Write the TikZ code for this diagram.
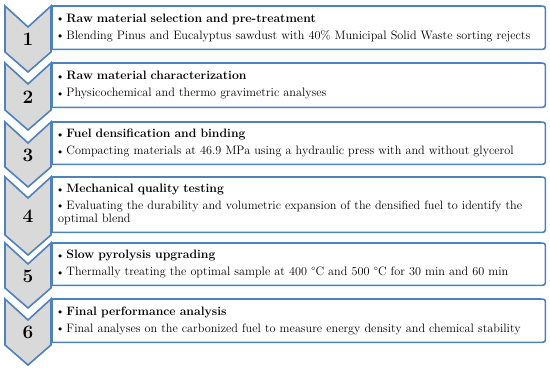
\documentclass[tikz,border=0pt]{standalone}
\usepackage{tikz}
\usepackage{graphicx}
\usetikzlibrary{positioning,calc}
\definecolor{stepblue}{RGB}{79,129,189}
\definecolor{stepgrey}{RGB}{217,217,217}
\newcommand{\stepdot}{\raisebox{0.6pt}{\scalebox{0.7}{$\bullet$}}\ }

\begin{document}
\begin{tikzpicture}[
    x=1pt, y=-1pt,
    chev/.style={draw=stepblue,fill=stepgrey,line width=1.6pt,line join=miter},
    frame/.style={draw=stepblue,line width=1.6pt},
    stage/.style={anchor=north west,inner xsep=6pt,inner ysep=0pt,
                  minimum width=493pt,minimum height=#1,text width=481pt,
                  align=left,font=\fontsize{12.2}{13.4}\selectfont},
    num/.style={font=\fontsize{19}{19}\selectfont\bfseries}]

    \useasboundingbox (0,0) rectangle (550,372);

    % Chevrons
    \draw[chev] (5,6) -- (28,27) -- (51,6) -- (51,52) -- (28,72) -- (5,52) -- cycle;
    \draw[chev] (5,63) -- (28,84) -- (51,63) -- (51,110) -- (28,130) -- (5,110) -- cycle;
    \draw[chev] (5,122) -- (28,143) -- (51,122) -- (51,167) -- (28,187) -- (5,167) -- cycle;
    \draw[chev] (5,177) -- (28,198) -- (51,177) -- (51,235) -- (28,255) -- (5,235) -- cycle;
    \draw[chev] (5,243) -- (28,264) -- (51,243) -- (51,288) -- (28,308) -- (5,288) -- cycle;
    \draw[chev] (5,299) -- (28,320) -- (51,299) -- (51,345) -- (28,365) -- (5,345) -- cycle;

    \node[num] (nsel)  at (28,39.5)  {1};
    \node[num] (nchr)  at (28,97)    {2};
    \node[num] (ndens) at (28,155)   {3};
    \node[num] (nmech) at (28,216.5) {4};
    \node[num] (npyro) at (28,276)   {5};
    \node[num] (nfin)  at (28,332.5) {6};

    % Step 1: selection
    \node[stage=43pt] (sel) at (52,6)
      {\stepdot\textbf{Raw material selection and pre-treatment}\\[3.5pt]
       \stepdot Blending Pinus and Eucalyptus sawdust with 40\% Municipal Solid Waste sorting rejects};
    % Step 2: characterization
    \node[stage=44pt] (chr) at (52,63)
      {\stepdot\textbf{Raw material characterization}\\[3.5pt]
       \stepdot Physicochemical and thermo gravimetric analyses};
    % Step 3: densification
    \node[stage=42pt] (dens) at (52,122)
      {\stepdot\textbf{Fuel densification and binding}\\[3.5pt]
       \stepdot Compacting materials at 46.9 MPa using a hydraulic press with and without glycerol};
    % Step 4: mechanical testing
    \node[stage=55pt] (mech) at (52,177)
      {\stepdot\textbf{Mechanical quality testing}\\[3.5pt]
       \stepdot Evaluating the durability and volumetric expansion of the densified fuel to identify the\\
       optimal blend};
    % Step 5: pyrolysis
    \node[stage=42pt] (pyro) at (52,243)
      {\stepdot\textbf{Slow pyrolysis upgrading}\\[3.5pt]
       \stepdot Thermally treating the optimal sample at 400 \textdegree C and 500 \textdegree C for 30 min and 60 min};
    % Step 6: final analysis
    \node[stage=43pt] (fin) at (52,299)
      {\stepdot\textbf{Final performance analysis}\\[3.5pt]
       \stepdot Final analyses on the carbonized fuel to measure energy density and chemical stability};

    % Frames, square on the left, rounded on the right
    \draw[frame] (sel.north west) -- ([xshift=-6pt]sel.north east) .. controls (sel.north east) .. ([yshift=-6pt]sel.north east)
      -- ([yshift=6pt]sel.south east) .. controls (sel.south east) .. ([xshift=-6pt]sel.south east) -- (sel.south west) -- cycle;
    \draw[frame] (chr.north west) -- ([xshift=-6pt]chr.north east) .. controls (chr.north east) .. ([yshift=-6pt]chr.north east)
      -- ([yshift=6pt]chr.south east) .. controls (chr.south east) .. ([xshift=-6pt]chr.south east) -- (chr.south west) -- cycle;
    \draw[frame] (dens.north west) -- ([xshift=-6pt]dens.north east) .. controls (dens.north east) .. ([yshift=-6pt]dens.north east)
      -- ([yshift=6pt]dens.south east) .. controls (dens.south east) .. ([xshift=-6pt]dens.south east) -- (dens.south west) -- cycle;
    \draw[frame] (mech.north west) -- ([xshift=-6pt]mech.north east) .. controls (mech.north east) .. ([yshift=-6pt]mech.north east)
      -- ([yshift=6pt]mech.south east) .. controls (mech.south east) .. ([xshift=-6pt]mech.south east) -- (mech.south west) -- cycle;
    \draw[frame] (pyro.north west) -- ([xshift=-6pt]pyro.north east) .. controls (pyro.north east) .. ([yshift=-6pt]pyro.north east)
      -- ([yshift=6pt]pyro.south east) .. controls (pyro.south east) .. ([xshift=-6pt]pyro.south east) -- (pyro.south west) -- cycle;
    \draw[frame] (fin.north west) -- ([xshift=-6pt]fin.north east) .. controls (fin.north east) .. ([yshift=-6pt]fin.north east)
      -- ([yshift=6pt]fin.south east) .. controls (fin.south east) .. ([xshift=-6pt]fin.south east) -- (fin.south west) -- cycle;
\end{tikzpicture}
\end{document}
